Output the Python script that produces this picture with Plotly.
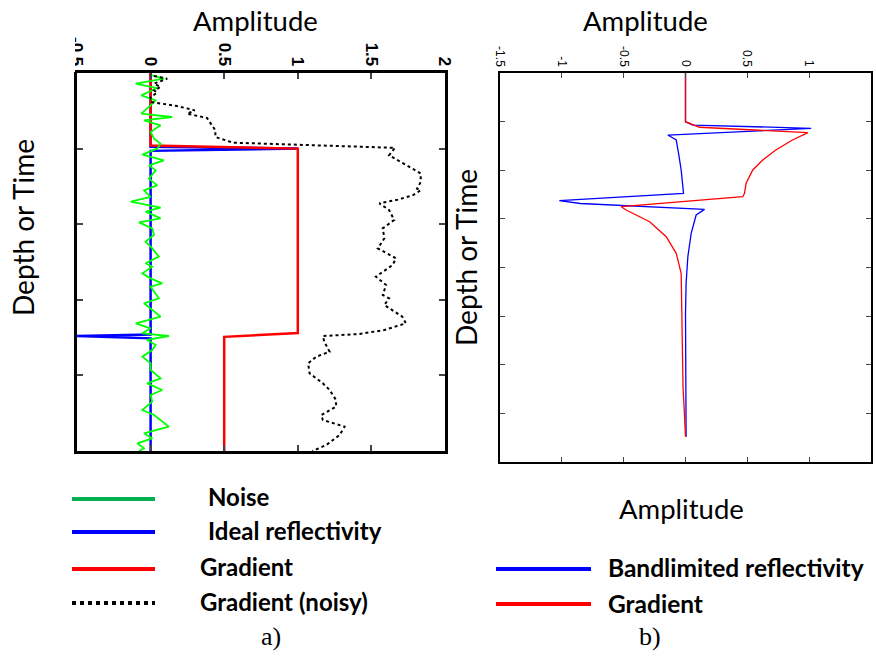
import plotly.graph_objects as go

W, H = 876, 656

# ---- panel a: depth samples (0 = top, 100 = bottom) ----
grad_depth = [0, 19.2, 20.0, 68.8, 69.8, 100]
grad_amp = [0, 0, 1, 1, 0.5, 0.5]

refl_depth = [0, 19.5, 20.0, 20.6, 69.2, 69.6, 70.2, 100]
refl_amp = [0, 0, 1, 0, 0, -0.5, 0, 0]

noise_depth = [0.62, 1.5, 2.82, 3.97, 5.91, 7.23, 8.55, 10.76, 11.64, 12.52, 13.84,
               15.61, 17.37, 18.69, 20.02, 21.6, 23.1, 24.43, 25.75, 27.95, 29.72,
               31.04, 32.8, 34.04, 35.63, 36.68, 38.45, 39.51, 41.09, 42.86, 44.62,
               46.39, 48.59, 50.35, 51.23, 53.0, 54.32, 55.64, 56.53, 57.85, 59.61,
               60.93, 62.7, 64.46, 66.22, 67.55, 68.87, 69.58, 70.63, 71.96, 73.28,
               75.04, 76.81, 78.57, 80.78, 82.1, 83.86, 85.19, 86.95, 89.15, 90.48,
               93.56, 95.33, 96.65, 97.97, 99.29, 100]
noise_amp = [0.011, 0.09, -0.101, 0.045, -0.063, 0.034, 0.0, -0.063, 0.146, -0.045, 0.068,
             0.0, 0.023, 0.068, 0.045, -0.056, 0.09, -0.011, 0.034, -0.011, 0.045,
             -0.045, 0.0, -0.135, 0.068, -0.034, 0.068, -0.079, 0.011, 0.023, -0.034,
             0.011, 0.056, -0.034, 0.011, -0.056, 0.0, 0.079, 0.0, 0.023, 0.056,
             -0.045, 0.011, 0.068, -0.1, 0.0, -0.056, 0.124, -0.023, 0.034, 0.011,
             -0.056, 0.0, 0.0, 0.068, -0.023, 0.079, 0.0, 0.011, -0.056, 0.023,
             0.124, -0.045, 0.011, -0.09, -0.045, -0.079]

noisy_depth = [0.79, 1.5, 2.82, 3.7, 4.59, 5.2, 6.35, 7.67, 8.73, 9.88, 10.76, 11.9,
               13.84, 15.17, 16.93, 18.43, 19.8, 21.8, 25.3, 26.6, 28.84, 30.6, 31.04,
               32.36, 33.5, 34.48, 36.24, 38.89, 41.09, 43.74, 46.39, 49.03, 50.8,
               53.88, 56.09, 58.73, 59.61, 61.38, 64.46, 66.22, 67.99, 69.05, 69.58,
               71.08, 73.73, 75.04, 76.81, 79.45, 82.1, 83.86, 86.51, 88.27, 90.48,
               91.8, 93.56, 95.77, 98.41, 100]
noisy_amp = [0.023, 0.113, 0.023, 0.068, 0.023, 0.045, 0.0, 0.0, 0.18, 0.30, 0.248, 0.383,
             0.417, 0.44, 0.44, 0.56, 1.66, 1.62, 1.78, 1.835, 1.835, 1.81, 1.835,
             1.78, 1.68, 1.554, 1.62, 1.655, 1.577, 1.588, 1.543, 1.667, 1.644,
             1.53, 1.6, 1.577, 1.62, 1.588, 1.71, 1.734, 1.588, 1.419, 1.17,
             1.18, 1.216, 1.126, 1.07, 1.08, 1.17, 1.216, 1.26, 1.26, 1.16,
             1.17, 1.318, 1.284, 1.194, 1.1]

a_ticks = [-0.5, 0, 0.5, 1, 1.5, 2]
a_ticktext = ["-0.5", "0", "0.5", "1", "1.5", "2"]

# ---- panel b: depth samples (0 = top, 400 = bottom) ----
band_depth = [0, 50.1, 53.5, 56.9, 63.8, 68.9, 84.3, 99.7, 123.7, 131.3, 134.2,
              140.2, 146.0, 164.8, 188.9, 215.9, 246.8, 374.0]
band_amp = [0, 0, 0.06, 1.016, -0.143, -0.075, -0.054, -0.035, -0.016, -1.02, -0.85,
            0.154, 0.086, 0.046, 0.019, 0.005, 0.0, 0.005]

bgrad_depth = [0, 50.1, 55.8, 61.4, 68.9, 79.2, 89.5, 99.7, 113.4, 123.7, 127.2,
               137.5, 140.9, 152.9, 168.3, 185.4, 206.0, 250.6, 272.8, 323.2, 346.5, 374.0]
bgrad_amp = [0, 0, 0.113, 0.99, 0.865, 0.73, 0.625, 0.544, 0.49, 0.477, 0.463,
             -0.52, -0.48, -0.29, -0.156, -0.075, -0.035, -0.03, -0.03, -0.02, -0.01, 0.0]

b_ticks = [-1.5, -1, -0.5, 0, 0.5, 1, 1.5]
b_ticktext = ["-1.5", "-1", "-0.5", "0", "0.5", "1", "1.5"]


def px(x):
    return x / W


def py(y):
    return 1 - y / H


fig = go.Figure()

# panel a traces
fig.add_trace(go.Scatter(x=refl_amp, y=refl_depth, mode="lines",
                         line=dict(color="#0000ff", width=2.5), xaxis="x", yaxis="y"))
fig.add_trace(go.Scatter(x=grad_amp, y=grad_depth, mode="lines",
                         line=dict(color="#ff0000", width=2.5), xaxis="x", yaxis="y"))
fig.add_trace(go.Scatter(x=noise_amp, y=noise_depth, mode="lines",
                         line=dict(color="#00ff00", width=1.8), xaxis="x", yaxis="y"))
fig.add_trace(go.Scatter(x=noisy_amp, y=noisy_depth, mode="lines",
                         line=dict(color="black", width=2, dash="dot"), xaxis="x", yaxis="y"))

# panel b traces
fig.add_trace(go.Scatter(x=band_amp, y=band_depth, mode="lines",
                         line=dict(color="#0000ff", width=1.3), xaxis="x2", yaxis="y2"))
fig.add_trace(go.Scatter(x=bgrad_amp, y=bgrad_depth, mode="lines",
                         line=dict(color="#ff0000", width=1.3), xaxis="x2", yaxis="y2"))

common = dict(showgrid=False, zeroline=False, showline=True, mirror="allticks",
              ticks="inside", linecolor="black", automargin=False)

fig.update_layout(
    width=W, height=H, margin=dict(l=0, r=0, t=0, b=0, autoexpand=False),
    paper_bgcolor="white", plot_bgcolor="white", showlegend=False,
    xaxis=dict(domain=[px(77), px(445)], range=[-0.5, 2], side="top", anchor="y",
               tickvals=a_ticks, ticktext=a_ticktext, tickangle=90, ticklen=6,
               tickwidth=1.5, linewidth=2.5, ticklabelstandoff=-2,
               tickfont=dict(family="Liberation Sans", size=17, color="black", weight="bold"),
               **common),
    yaxis=dict(domain=[py(451), py(73)], range=[100, 0], anchor="x",
               tickvals=[20, 40, 60, 80], showticklabels=False, ticklen=6,
               tickwidth=1.5, linewidth=2.5, **common),
    xaxis2=dict(domain=[px(500), px(871)], range=[-1.5, 1.5], side="top", anchor="y2",
                tickvals=b_ticks, ticktext=b_ticktext, tickangle=90, ticklen=5,
                tickwidth=1.2, linewidth=2,
                tickfont=dict(family="Liberation Sans", size=12, color="black"),
                **common),
    yaxis2=dict(domain=[py(462), py(73)], range=[400, 0], anchor="x2",
                tickvals=[50, 100, 150, 200, 250, 300, 350], showticklabels=False,
                ticklen=5, tickwidth=1.2, linewidth=2, **common),
)

shapes = [
    # white margin trimming the leftmost tick label of panel a
    dict(type="rect", xref="paper", yref="paper", x0=0, x1=px(75), y0=py(72), y1=1,
         fillcolor="white", line=dict(width=0), layer="above"),
]

# legend samples
leg_a = [(499, "#00b050", "solid"), (532, "#0000ff", "solid"),
         (569, "#ff0000", "solid"), (603, "black", "dot")]
for y, c, d in leg_a:
    shapes.append(dict(type="line", xref="paper", yref="paper", x0=px(72), x1=px(155),
                       y0=py(y), y1=py(y), line=dict(color=c, width=4, dash=d)))
for y, c in [(569, "#0000ff"), (604, "#ff0000")]:
    shapes.append(dict(type="line", xref="paper", yref="paper", x0=px(496), x1=px(591),
                       y0=py(y), y1=py(y), line=dict(color=c, width=4)))
fig.update_layout(shapes=shapes)

ann = []


def text(x, y, s, size, family="Lato", bold=False, angle=0, xanchor="center"):
    ann.append(dict(x=px(x), y=py(y), xref="paper", yref="paper", text=s, showarrow=False,
                    xanchor=xanchor, yanchor="middle", textangle=angle,
                    font=dict(family=family, size=size, color="black",
                              weight="bold" if bold else "normal")))


text(255, 20, "Amplitude", 27.5)
text(645, 21, "Amplitude", 27.5)
text(681, 508, "Amplitude", 27.5)
text(23, 228, "Depth or Time", 28, angle=-90)
text(466, 258, "Depth or Time", 28, angle=-90)

text(206, 496, "Noise", 24, bold=True, xanchor="left")
text(206, 530, "Ideal reflectivity", 24, bold=True, xanchor="left")
text(198, 566, "Gradient", 24, bold=True, xanchor="left")
text(198, 601, "Gradient (noisy)", 24, bold=True, xanchor="left")
text(606, 567, "Bandlimited reflectivity", 24.5, bold=True, xanchor="left")
text(606, 603, "Gradient", 24.5, bold=True, xanchor="left")

text(271, 636, "a)", 26, family="Liberation Serif")
text(650, 636, "b)", 26, family="Liberation Serif")

fig.update_layout(annotations=ann)

fig.write_html("out.html")
